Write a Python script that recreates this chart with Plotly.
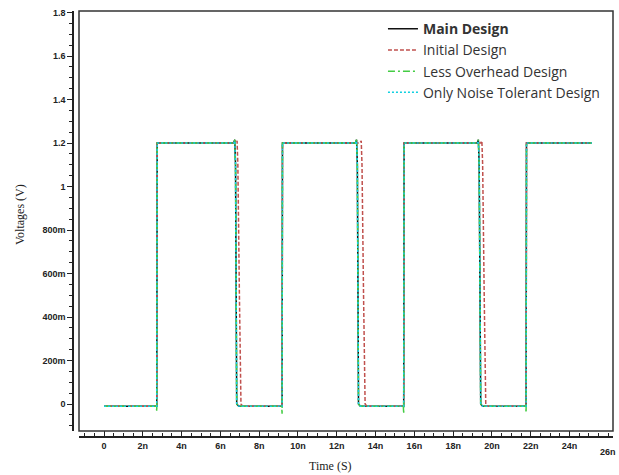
import plotly.graph_objects as go

# ---- data (time in ns, voltage in V) ----
main_t = [0, 2.72, 2.74, 6.68, 6.74, 6.78, 6.84, 6.95, 9.18, 9.2, 12.96, 13.02, 13.06, 13.12, 13.22,
          15.45, 15.47, 19.24, 19.3, 19.34, 19.42, 19.52, 21.76, 21.78, 25.15]
main_v = [-0.01, -0.01, 1.2, 1.2, 1.215, 1.1, 0.0, -0.01, -0.01, 1.2, 1.2, 1.215, 1.1, 0.0, -0.01,
          -0.01, 1.2, 1.2, 1.215, 1.1, 0.0, -0.01, -0.01, 1.2, 1.2]

init_t = [0, 2.72, 2.74, 6.8, 6.86, 6.9, 6.98, 7.06, 7.15, 9.18, 9.2, 13.2, 13.26, 13.3, 13.38, 13.46, 13.55,
          15.45, 15.47, 19.42, 19.48, 19.52, 19.6, 19.68, 19.77, 21.76, 21.78, 25.15]
init_v = [-0.01, -0.01, 1.2, 1.2, 1.21, 1.1, 0.5, 0.0, -0.01, -0.01, 1.2, 1.2, 1.21, 1.1, 0.5, 0.0, -0.01,
          -0.01, 1.2, 1.2, 1.21, 1.1, 0.5, 0.0, -0.01, -0.01, 1.2, 1.2]

less_t = [0, 2.70, 2.72, 2.74, 6.68, 6.74, 6.78, 6.84, 6.95, 9.16, 9.18, 9.2, 12.96, 13.02, 13.06, 13.12, 13.22,
          15.43, 15.45, 15.47, 19.24, 19.3, 19.34, 19.42, 19.52, 21.74, 21.76, 21.78, 25.15]
less_v = [-0.01, -0.01, -0.035, 1.2, 1.2, 1.215, 1.1, 0.0, -0.01, -0.01, -0.045, 1.2, 1.2, 1.215, 1.1, 0.0, -0.01,
          -0.01, -0.045, 1.2, 1.2, 1.215, 1.1, 0.0, -0.01, -0.01, -0.04, 1.2, 1.2]

noise_t = [0, 2.72, 2.74, 6.68, 6.74, 6.78, 6.84, 6.95, 9.18, 9.2, 12.96, 13.02, 13.06, 13.12, 13.22,
           15.45, 15.47, 19.24, 19.3, 19.34, 19.42, 19.52, 21.76, 21.78, 25.15]
noise_v = [-0.01, -0.01, 1.2, 1.2, 1.21, 1.1, 0.0, -0.01, -0.01, 1.2, 1.2, 1.21, 1.1, 0.0, -0.01,
           -0.01, 1.2, 1.2, 1.21, 1.1, 0.0, -0.01, -0.01, 1.2, 1.2]

x_tickvals = [0, 2, 4, 6, 8, 10, 12, 14, 16, 18, 20, 22, 24]
x_ticktext = ["0", "2n", "4n", "6n", "8n", "10n", "12n", "14n", "16n", "18n", "20n", "22n", "24n"]
y_tickvals = [0, 0.2, 0.4, 0.6, 0.8, 1.0, 1.2, 1.4, 1.6, 1.8]
y_ticktext = ["0", "200m", "400m", "600m", "800m", "1", "1.2", "1.4", "1.6", "1.8"]

fig = go.Figure()
fig.add_trace(go.Scatter(x=main_t, y=main_v, mode="lines", name="<b>Main Design</b>",
                         legendgroup="a", line=dict(color="#111111", width=1.5)))
fig.add_trace(go.Scatter(x=init_t, y=init_v, mode="lines", name="Initial Design",
                         legendgroup="b", line=dict(color="#c0504d", width=1.5, dash="4px,2px")))
fig.add_trace(go.Scatter(x=less_t, y=less_v, mode="lines", name="Less Overhead Design",
                         legendgroup="c", line=dict(color="#44cc44", width=1.5, dash="7px,3px,2px,3px")))
fig.add_trace(go.Scatter(x=noise_t, y=noise_v, mode="lines", name="Only Noise Tolerant Design",
                         legendgroup="d", line=dict(color="#10d0e0", width=1.5, dash="2px,2px")))

tickfont = dict(family="Arial, Liberation Sans", size=9, color="#222222", weight="bold")

fig.update_layout(
    width=619, height=475,
    margin=dict(l=73, r=6, t=11, b=38),
    paper_bgcolor="white", plot_bgcolor="white",
    showlegend=True,
    legend=dict(x=0.574, y=0.995, xanchor="left", yanchor="top",
                bgcolor="rgba(0,0,0,0)", borderwidth=0,
                font=dict(family="Open Sans, Liberation Sans", size=14, color="#333333"),
                tracegroupgap=2, traceorder="normal"),
    xaxis=dict(domain=[6 / 540, 1], anchor="free", position=0,
               range=[-1.29, 26.24], showgrid=False, zeroline=False,
               showline=True, linecolor="#222222", linewidth=1.5,
               tickvals=x_tickvals, ticktext=x_ticktext,
               ticks="inside", ticklen=5, tickcolor="#222222", tickwidth=1,
               minor=dict(dtick=0.5, tick0=0, ticks="inside", ticklen=3, tickcolor="#222222"),
               tickfont=tickfont),
    yaxis=dict(domain=[6 / 426, 1], anchor="free", position=0,
               range=[-0.124, 1.807], showgrid=False, zeroline=False,
               showline=True, linecolor="#222222", linewidth=1.5,
               tickvals=y_tickvals, ticktext=y_ticktext,
               ticks="outside", ticklen=5, tickcolor="#222222", tickwidth=1,
               minor=dict(dtick=0.05, tick0=0, ticks="outside", ticklen=3, tickcolor="#222222"),
               tickfont=tickfont),
    shapes=[dict(type="rect", xref="x domain", yref="y domain", x0=0, x1=1, y0=0, y1=1,
                 line=dict(color="#333333", width=1.5), fillcolor="rgba(0,0,0,0)")],
    annotations=[
        dict(text="Voltages (V)", xref="paper", yref="paper", x=(20 - 73) / 540, y=(437 - 215) / 426,
             textangle=-90, showarrow=False, xanchor="center", yanchor="middle",
             font=dict(family="Liberation Serif, Times New Roman", size=12, color="#222222")),
        dict(text="Time (S)", xref="paper", yref="paper", x=(330 - 73) / 540, y=(437 - 466) / 426,
             showarrow=False, xanchor="center", yanchor="middle",
             font=dict(family="Liberation Serif, Times New Roman", size=12, color="#222222")),
        dict(text="26n", xref="x", yref="paper", x=26, y=(437 - 452) / 426,
             showarrow=False, xanchor="center", yanchor="middle", font=tickfont),
    ],
)

fig.write_html("out.html")
